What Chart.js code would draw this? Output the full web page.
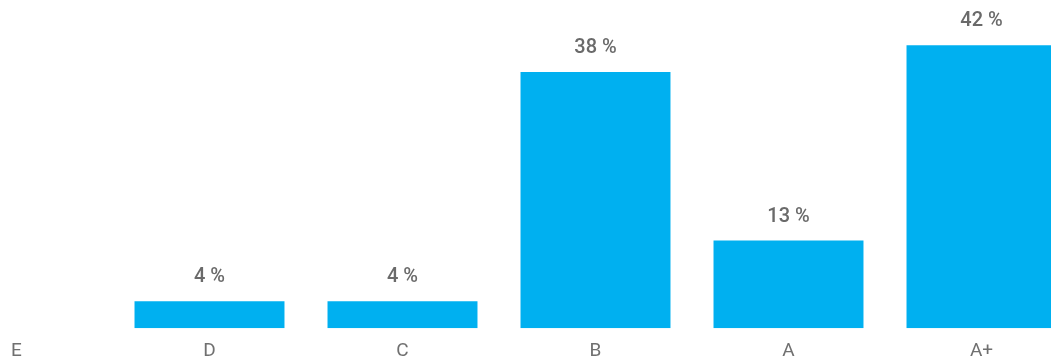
<!DOCTYPE html>
<html>
<head>
<meta charset="utf-8">
<script src="https://cdn.jsdelivr.net/npm/chart.js@4/dist/chart.umd.min.js"></script>
<style>
  html, body { margin: 0; padding: 0; background: #fff; overflow: hidden; }
  #wrap { position: absolute; left: -80px; top: 0; width: 1158px; height: 377px; }
</style>
</head>
<body>
<div id="wrap"><canvas id="grade-chart"></canvas></div>
<script>
const grades = ['E', 'D', 'C', 'B', 'A', 'A+']
const shares = [0, 4, 4, 38, 13, 42]

const ctx = document.getElementById('grade-chart')

// value labels above each bar
const barLabels = {
   id: 'barLabels',
   afterDatasetsDraw(chart) {
      const c = chart.ctx
      const meta = chart.getDatasetMeta(0)
      c.save()
      c.font = '500 20px Roboto'
      c.fillStyle = '#6a6a6a'
      c.textAlign = 'center'
      c.textBaseline = 'middle'
      meta.data.forEach((bar, i) => {
         if (!shares[i]) return
         c.fillText(shares[i] + ' %', bar.x, bar.y - 24)
      })
      c.restore()
   }
}

new Chart(ctx, {
   type: 'bar',
   data: {
      labels: grades,
      datasets: [{
         data: shares,
         backgroundColor: '#00B0F0',
         categoryPercentage: 1,
         barPercentage: 0.777
      }]
   },
   options: {
      responsive: true,
      maintainAspectRatio: false,
      animation: false,
      layout: { padding: { top: 0, bottom: 2, left: 0, right: 0 } },
      plugins: { legend: { display: false }, tooltip: { enabled: false } },
      scales: {
         x: {
            grid: { display: false, drawTicks: false },
            border: { display: false },
            ticks: { color: '#707070', font: { family: 'Roboto', size: 19 }, padding: 12 }
         },
         y: {
            display: false,
            min: 0,
            max: 48.7
         }
      }
   },
   plugins: [barLabels]
})
</script>
</body>
</html>
